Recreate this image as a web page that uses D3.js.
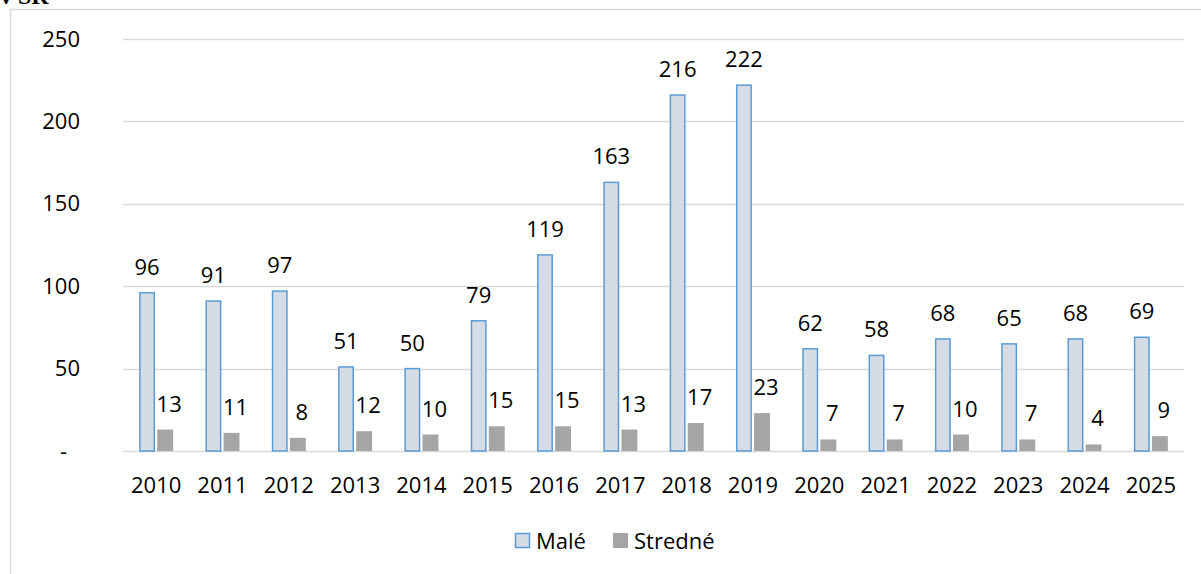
<!DOCTYPE html>
<html>
<head>
<meta charset="utf-8">
<script src="https://cdn.jsdelivr.net/npm/d3@7"></script>
<style>
  body { margin: 0; background: #fff; }
  svg text { font-family: "Open Sans", sans-serif; fill: #000; }
</style>
</head>
<body>
<svg id="chart" width="1201" height="574"></svg>
<script>
// data
var years = ["2010","2011","2012","2013","2014","2015","2016","2017","2018","2019","2020","2021","2022","2023","2024","2025"];
var seriesNames = ["Malé", "Stredné"];
var male = [96, 91, 97, 51, 50, 79, 119, 163, 216, 222, 62, 58, 68, 65, 68, 69];
var stredne = [13, 11, 8, 12, 10, 15, 15, 13, 17, 23, 7, 7, 10, 7, 4, 9];
var yTicks = [0, 50, 100, 150, 200, 250];

var svg = d3.select("#chart");
var plotLeft = 123, plotRight = 1184, plotTop = 39, plotBottom = 451;

// chart frame
svg.append("path")
  .attr("d", "M10.5,574 V9.5 H1201")
  .attr("fill", "none")
  .attr("stroke", "#d9d9d9")
  .attr("stroke-width", 1.5);

// cut-off title remnant
svg.append("text")
  .attr("x", 0).attr("y", 4)
  .style("font-family", "'Liberation Serif', serif")
  .style("font-weight", "bold")
  .style("font-size", "24px")
  .text("v SR");

var x0 = d3.scaleBand().domain(years).range([plotLeft, plotRight]).padding(0);
var x1 = d3.scaleBand().domain(seriesNames).range([-17, 17]).paddingInner(0.12);
var y = d3.scaleLinear().domain([0, 250]).range([plotBottom, plotTop]);

// gridlines
svg.append("g").selectAll("line")
  .data(yTicks)
  .enter().append("line")
  .attr("x1", plotLeft).attr("x2", plotRight)
  .attr("y1", function (d) { return Math.round(y(d)) + 0.5; })
  .attr("y2", function (d) { return Math.round(y(d)) + 0.5; })
  .attr("stroke", "#d9d9d9")
  .attr("stroke-width", 1.5);

// y axis labels
var yAxis = svg.append("g")
  .attr("transform", "translate(80,0)")
  .call(d3.axisLeft(y).tickValues(yTicks).tickSize(0).tickPadding(0)
    .tickFormat(function (d) { return d === 0 ? "-" : d; }));
yAxis.select(".domain").remove();
yAxis.selectAll("text")
  .style("font-size", "22px")
  .style("font-family", "'Open Sans', sans-serif")
  .attr("fill", "#000")
  .attr("dx", function (d) { return d === 0 ? -13 : 0; });

// x axis labels
var xAxis = svg.append("g")
  .attr("transform", "translate(0," + plotBottom + ")")
  .call(d3.axisBottom(x0).tickSize(0).tickPadding(0));
xAxis.select(".domain").remove();
xAxis.selectAll("text")
  .attr("y", 42).attr("dy", 0)
  .style("font-size", "22px")
  .style("font-family", "'Open Sans', sans-serif")
  .attr("fill", "#000");

var rows = years.map(function (yr, i) {
  return { year: yr, values: [male[i], stredne[i]] };
});

var groups = svg.append("g").selectAll("g")
  .data(rows)
  .enter().append("g")
  .attr("transform", function (d) { return "translate(" + (x0(d.year) + x0.bandwidth() / 2) + ",0)"; });

// Malé bars
groups.append("rect")
  .attr("x", x1("Malé") + 0.75)
  .attr("width", x1.bandwidth() - 1.5)
  .attr("y", function (d) { return y(d.values[0]); })
  .attr("height", function (d) { return plotBottom - y(d.values[0]); })
  .attr("fill", "#d6dce5")
  .attr("stroke", "#5b9bd5")
  .attr("stroke-width", 1.5);

// Stredné bars
groups.append("rect")
  .attr("x", x1("Stredné"))
  .attr("width", x1.bandwidth())
  .attr("y", function (d) { return y(d.values[1]); })
  .attr("height", function (d) { return plotBottom - y(d.values[1]); })
  .attr("fill", "#a5a5a5");

// value labels
groups.append("text")
  .attr("x", x1("Malé") + x1.bandwidth() / 2)
  .attr("y", function (d) { return y(d.values[0]) - 18; })
  .attr("text-anchor", "middle")
  .style("font-size", "22px")
  .text(function (d) { return d.values[0]; });

groups.append("text")
  .attr("x", x1("Stredné") + x1.bandwidth() / 2 + 4)
  .attr("y", function (d) { return y(d.values[1]) - 18; })
  .attr("text-anchor", "middle")
  .style("font-size", "22px")
  .text(function (d) { return d.values[1]; });

// legend
var legend = svg.append("g").attr("transform", "translate(0,541)");
legend.append("rect")
  .attr("x", 515.5).attr("y", -7.5).attr("width", 14).attr("height", 14)
  .attr("fill", "#d6dce5").attr("stroke", "#5b9bd5").attr("stroke-width", 1.5);
legend.append("text")
  .attr("x", 536).attr("y", 8)
  .style("font-size", "22px")
  .text(seriesNames[0]);
legend.append("rect")
  .attr("x", 613).attr("y", -8).attr("width", 15).attr("height", 15)
  .attr("fill", "#a5a5a5");
legend.append("text")
  .attr("x", 634).attr("y", 8)
  .style("font-size", "22px")
  .text(seriesNames[1]);
</script>
</body>
</html>
